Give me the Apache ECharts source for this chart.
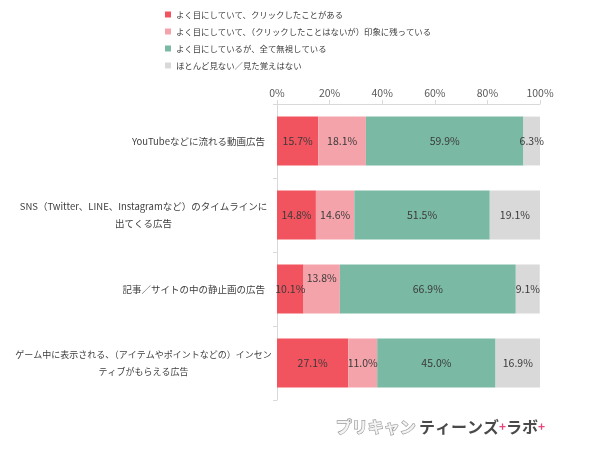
<!DOCTYPE html>
<html><head><meta charset="utf-8">
<script src="https://cdn.jsdelivr.net/npm/echarts@6/dist/echarts.min.js"></script>
<style>html,body{margin:0;padding:0;background:#fff}#c{width:590px;height:454px}</style>
</head><body><div id="c"></div>
<script>
var categories = [
  'YouTubeなどに流れる動画広告',
  'SNS（Twitter、LINE、Instagramなど）のタイムラインに\n出てくる広告',
  '記事／サイトの中の静止画の広告',
  'ゲーム中に表示される、（アイテムやポイントなどの）インセン\nティブがもらえる広告'
];
var seriesNames = [
  'よく目にしていて、クリックしたことがある',
  'よく目にしていて、（クリックしたことはないが）印象に残っている',
  'よく目にしているが、全て無視している',
  'ほとんど見ない／見た覚えはない'
];
var clicked = [15.7, 14.8, 10.1, 27.1];
var remembered = [18.1, 14.6, 13.8, 11.0];
var ignored = [59.9, 51.5, 66.9, 45.0];
var notSeen = [6.3, 19.1, 9.1, 16.9];
var xTicks = [0, 20, 40, 60, 80, 100];

var colors = ['#F2545F', '#F5A3AA', '#7AB9A4', '#D9D9D9'];
var font = '"Noto Sans CJK JP", "Noto Sans", sans-serif';
var chart = echarts.init(document.getElementById('c'));
function mk(i, data) {
  return {
    name: seriesNames[i], type: 'bar', stack: 'a', barCategoryGap: '34%',
    itemStyle: { color: colors[i] },
    label: { show: true, position: 'inside', formatter: function (p) { return p.value.toFixed(1) + '%'; },
      color: '#3a3a3a', fontSize: 10.5, fontFamily: font },
    data: data.map(function (v, j) {
      var o = { value: v };
      if (i === 1 && j === 2) o.label = { offset: [0, -11] };
      return o;
    })
  };
}
chart.setOption({
  animation: false,
  textStyle: { fontFamily: font },
  legend: {
    orient: 'vertical', left: 160, top: 4, itemWidth: 6, itemHeight: 6, itemGap: 6,
    icon: 'rect', textStyle: { fontSize: 8.4, color: '#404040', fontFamily: font, lineHeight: 11 },
    data: seriesNames
  },
  grid: { left: 277, right: 50, top: 104, bottom: 54 },
  xAxis: {
    type: 'value', position: 'top', min: 0, max: 100, interval: 20,
    axisLine: { show: true, lineStyle: { color: '#D9D9D9' } },
    axisTick: { show: true, length: 4, inside: false, lineStyle: { color: '#D9D9D9' } },
    splitLine: { show: false },
    axisLabel: { formatter: function (v) { return xTicks.indexOf(v) >= 0 ? v + '%' : ''; }, color: '#595959', fontSize: 10.5, margin: 6 }
  },
  yAxis: {
    type: 'category', inverse: true, data: categories,
    axisLine: { show: true, lineStyle: { color: '#D9D9D9' } },
    axisTick: { show: true, length: 4, lineStyle: { color: '#D9D9D9' } },
    axisLabel: {
      color: '#404040', fontSize: 9.5, margin: 12, lineHeight: 17,
      formatter: function (v, idx) {
        if (v.indexOf('\n') >= 0) {
          var k = idx === 3 ? 'd' : 'c';
          return v.split('\n').map(function (s) { return '{' + k + '|' + s + '}'; }).join('\n');
        }
        return v;
      },
      rich: {
        c: { width: 243, align: 'center', fontSize: 9.5, color: '#404040', lineHeight: 17 },
        d: { width: 243, align: 'center', fontSize: 9, color: '#404040', lineHeight: 17 }
      }
    }
  },
  graphic: [{
    type: 'text', left: 335, top: 418,
    style: {
      text: '{g|プリキャン} {d|ティーンズ}{p|+}{d|ラボ}{p|+}',
      rich: {
        g: { fontSize: 16, fontWeight: 'bold', fill: '#f4f4f4', stroke: '#9a9a9a', lineWidth: 1.3, fontFamily: font },
        d: { fontSize: 16, fontWeight: 'bold', fill: '#4a4a4a', fontFamily: font },
        p: { fontSize: 12, fontWeight: 'bold', fill: '#E8457E', fontFamily: font }
      }
    }
  }],
  series: [mk(0, clicked), mk(1, remembered), mk(2, ignored), mk(3, notSeen)]
});
</script></body></html>
